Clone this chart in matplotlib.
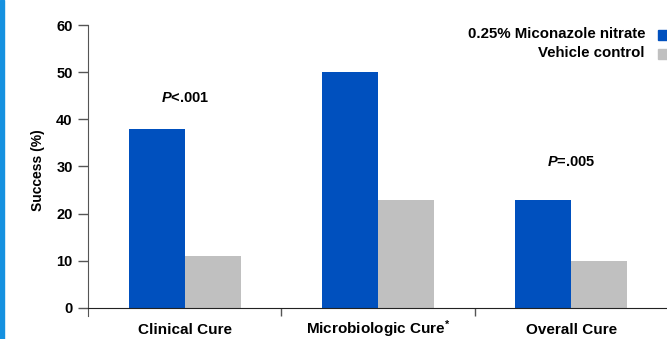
import numpy as np
import matplotlib
matplotlib.use("Agg")
import matplotlib.pyplot as plt
from matplotlib.patches import Rectangle

plt.rcParams['font.family'] = ['Liberation Sans', 'DejaVu Sans']
plt.rcParams['font.weight'] = 'bold'
plt.rcParams['mathtext.fontset'] = 'custom'
plt.rcParams['mathtext.rm'] = 'Liberation Sans:bold'
plt.rcParams['mathtext.it'] = 'Liberation Sans:bold:italic'
plt.rcParams['mathtext.bf'] = 'Liberation Sans:bold'

categories = ["Clinical Cure", r"Microbiologic Cure$^{*}$", "Overall Cure"]
series_names = ["0.25% Miconazole nitrate", "Vehicle control"]
miconazole = [38, 50, 23]
vehicle = [11, 23, 10]
p_labels = [r"$P$<.001", r"$P$=.005"]

blue = '#0050BE'
gray = '#C0C0C0'

fig = plt.figure(figsize=(6.67, 3.39), dpi=100)
ax = fig.add_axes([88 / 667, 1 - 316 / 339, 580 / 667, (316 - 25) / 339])

x = np.arange(len(categories))
w = 0.29
ax.bar(x - w / 2, miconazole, w, color=blue, zorder=2)
ax.bar(x + w / 2, vehicle, w, color=gray, zorder=2)

ax.set_xlim(-0.5, 2.5)
ax.set_ylim(-1.7, 60)

ax.spines['top'].set_visible(False)
ax.spines['right'].set_visible(False)
ax.spines['bottom'].set_position(('data', 0))
ax.spines['bottom'].set_color('#222222')
ax.spines['left'].set_color('#555555')
ax.spines['left'].set_bounds(-1.7, 60)

ax.set_yticks(range(0, 61, 10))
ax.tick_params(axis='y', direction='out', length=7, width=1, color='#555555',
               labelsize=10.5, pad=4)
for lab in ax.get_yticklabels():
    lab.set_fontweight('bold')

ax.set_xticks(x)
ax.set_xticklabels(categories, fontsize=11, fontweight='bold', va='baseline')
ax.tick_params(axis='x', which='major', length=0, pad=19)
ax.set_xticks([0.5, 1.5], minor=True)
ax.tick_params(axis='x', which='minor', direction='out', length=6, width=1,
               color='#555555')

ax.set_ylabel("Success (%)", fontsize=10, fontweight='bold', labelpad=8)

ax.text(0, 44.5, p_labels[0], ha='center', va='center', fontsize=10.5)
ax.text(2, 31, p_labels[1], ha='center', va='center', fontsize=10.5)

# legend drawn at the right edge, squares partly clipped by the figure
fig.text(645 / 667, 1 - 34 / 339, series_names[0], ha='right', va='center', fontsize=10.8)
fig.text(645 / 667, 1 - 53 / 339, series_names[1], ha='right', va='center', fontsize=10.8)
fig.patches.append(Rectangle((658 / 667, 1 - 40 / 339), 12 / 667, 10 / 339,
                             transform=fig.transFigure, color=blue))
fig.patches.append(Rectangle((658 / 667, 1 - 59 / 339), 12 / 667, 10 / 339,
                             transform=fig.transFigure, color=gray))

# blue strip at the left edge
fig.patches.append(Rectangle((0, 0), 4 / 667, 1, transform=fig.transFigure,
                             color='#1591E0'))

fig.savefig("out.png", dpi=100)
